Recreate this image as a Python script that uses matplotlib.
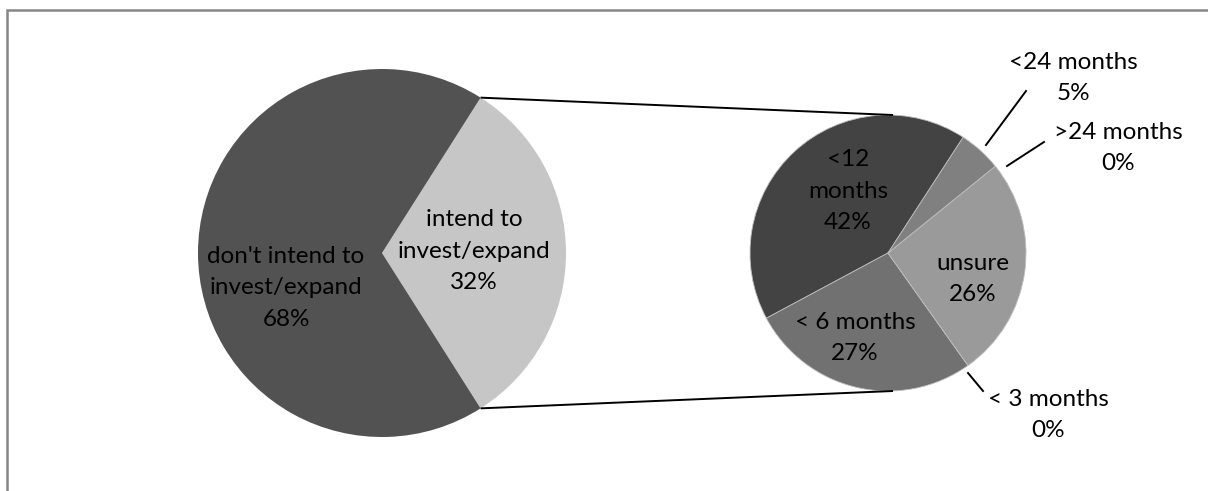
import numpy as np
import matplotlib.pyplot as plt
from matplotlib.patches import Rectangle

plt.rcParams['font.family'] = ['Lato', 'DejaVu Sans']

# main pie
main_labels = ["don't intend to\ninvest/expand", "intend to\ninvest/expand"]
main_values = [68, 32]
main_colors = ['#525252', '#c6c6c6']

# breakdown of "intend to invest/expand"
sub_labels = ['<12\nmonths', '< 6 months', '< 3 months', 'unsure', '>24 months', '<24 months']
sub_values = [42, 27, 0, 26, 0, 5]
sub_colors = ['#434343', '#717171', '#717171', '#9a9a9a', '#808080', '#808080']

W, H = 1208, 491
fig = plt.figure(figsize=(W / 100, H / 100), dpi=100)
ax = fig.add_axes([0, 0, 1, 1])
ax.set_xlim(0, W)
ax.set_ylim(0, H)
ax.set_aspect('equal')
ax.axis('off')

def py(y):
    return H - y

fs = 17.5
ls = 1.63

# frame (only top/left visible in the reference)
ax.add_patch(Rectangle((7, -5), W + 10, py(10) + 5, fill=False,
                       edgecolor='#868686', lw=1.8))

c1, r1 = (382, py(253)), 184
c2, r2 = (888, py(253)), 138

half = main_values[1] / sum(main_values) * 180
w1, _ = ax.pie(main_values[::-1], colors=main_colors[::-1], center=c1, radius=r1,
               startangle=-half, counterclock=True, frame=True,
               wedgeprops=dict(linewidth=0))
w2, _ = ax.pie(sub_values, colors=sub_colors, center=c2, radius=r2,
               startangle=57, counterclock=True, frame=True,
               wedgeprops=dict(linewidth=0.6, edgecolor='#bdbdbd'))
ax.set_xlim(0, W)
ax.set_ylim(0, H)
ax.axis('off')

# connector lines from the split wedge to the secondary pie
t = np.deg2rad(half)
for s in (1, -1):
    x0 = c1[0] + r1 * np.cos(t)
    y0 = c1[1] + s * r1 * np.sin(t)
    ax.plot([x0, c2[0] + 5], [y0, c2[1] + s * r2], color='black', lw=1.4,
            solid_capstyle='butt')

# data labels
def lab(name, val, x, y, **kw):
    ax.text(x, py(y), f'{name}\n{val}%', ha='center', va='center',
            fontsize=fs, linespacing=ls, color='black', **kw)

lab(main_labels[0], main_values[0], 286, 288)
lab(main_labels[1], main_values[1], 474, 251)
lab(sub_labels[0], sub_values[0], 848, 191)
lab(sub_labels[1], sub_values[1], 855, 338)
lab(sub_labels[3], sub_values[3], 973, 279)
lab(sub_labels[5], sub_values[5], 1073, 78)
lab(sub_labels[4], sub_values[4], 1118, 148)
lab(sub_labels[2], sub_values[2], 1048, 415)

# leader lines
for (xa, ya), (xb, yb) in [((1026, 91), (986, 145)),
                           ((1044, 142), (1007, 166)),
                           ((968, 373), (983, 391))]:
    ax.plot([xa, xb], [py(ya), py(yb)], color='black', lw=1.4)

fig.savefig('out.png', dpi=100)
